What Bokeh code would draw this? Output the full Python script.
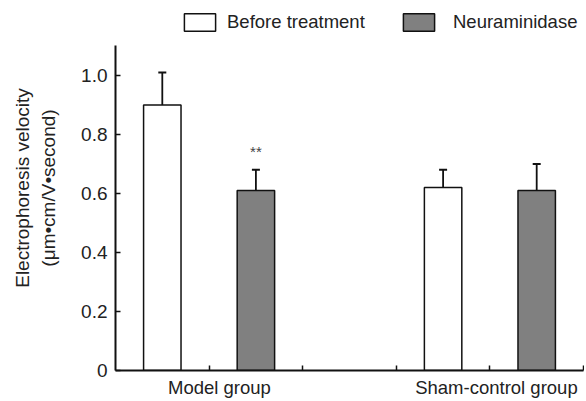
from bokeh.plotting import figure
from bokeh.models import (ColumnDataSource, FixedTicker, Legend, LegendItem,
                          Whisker, TeeHead, Range1d, PrintfTickFormatter)
from bokeh.core.properties import value
from bokeh.embed import file_html
from bokeh.resources import INLINE

groups = ["Model group", "Sham-control group"]
series = ["Before treatment", "Neuraminidase"]
before_mean = [0.90, 0.62]
before_sd = [0.11, 0.06]
neura_mean = [0.61, 0.61]
neura_sd = [0.07, 0.09]
y_ticks = [0, 0.2, 0.4, 0.6, 0.8, 1.0]
y_axis_max = 1.1
significance = ["**", ""]  # marks above Neuraminidase bars ("" for none)

# category layout on a numeric axis: each group occupies 2.5 units
before_x = [0.5, 3.5]
neura_x = [1.5, 4.5]
label_x = [1.11, 4.07]
sep_ticks = [1, 2, 3, 4, 5]

FONT = "Liberation Sans"
TXT = "#222222"

p = figure(width=584, height=400, output_backend="svg", toolbar_location=None,
           x_range=Range1d(0, 5), y_range=Range1d(0, 1.237),
           min_border_left=115, min_border_top=5, min_border_bottom=30,
           min_border_right=1)
p.outline_line_color = None
p.xgrid.visible = False
p.ygrid.visible = False
p.background_fill_color = "white"
p.border_fill_color = "white"

src_b = ColumnDataSource(dict(x=before_x, top=before_mean,
                              up=[m + s for m, s in zip(before_mean, before_sd)]))
src_n = ColumnDataSource(dict(x=neura_x, top=neura_mean,
                              up=[m + s for m, s in zip(neura_mean, neura_sd)]))

rb = p.vbar(x="x", top="top", width=0.4, source=src_b, fill_color="white",
            line_color="#111111", line_width=1.5)
rn = p.vbar(x="x", top="top", width=0.4, source=src_n, fill_color="#808080",
            line_color="#111111", line_width=1.5)

for src in (src_b, src_n):
    w = Whisker(base="x", upper="up", lower="top", source=src,
                line_color="#111111", line_width=1.8,
                upper_head=TeeHead(size=8, line_color="#111111", line_width=2),
                lower_head=None)
    p.add_layout(w)

# significance marks
sig_src = ColumnDataSource(dict(x=neura_x,
                                y=[m + s + 0.062 for m, s in zip(neura_mean, neura_sd)],
                                t=significance))
p.text(x="x", y="y", text="t", source=sig_src, text_align="center",
       text_baseline="middle", text_font=value(FONT), text_font_size="15px",
       text_color="#444444")

# y axis
p.yaxis.bounds = (0, y_axis_max)
p.yaxis.ticker = FixedTicker(ticks=y_ticks)
p.yaxis.formatter = PrintfTickFormatter(format="%.1f")
p.yaxis.major_label_overrides = {0: "0"}
p.yaxis.axis_label = "Electrophoresis velocity\n(μm•cm/V•second)"
p.yaxis.axis_label_text_font = FONT
p.yaxis.axis_label_text_font_size = "19px"
p.yaxis.axis_label_text_font_style = "normal"
p.yaxis.axis_label_text_color = TXT
p.yaxis.axis_label_text_line_height = 1.25
p.yaxis.axis_label_standoff = 19
p.yaxis.major_label_text_font = FONT
p.yaxis.major_label_text_font_size = "19px"
p.yaxis.major_label_text_color = TXT
p.yaxis.major_label_standoff = 8
p.yaxis.major_tick_in = 5
p.yaxis.major_tick_out = 0
p.yaxis.minor_tick_line_color = None
p.yaxis.axis_line_width = 2
p.yaxis.major_tick_line_width = 1.5
p.yaxis.axis_line_color = "#111111"
p.yaxis.major_tick_line_color = "#111111"

# x axis: labels at group centres, separator ticks as minor ticks
p.xaxis.ticker = FixedTicker(ticks=label_x, minor_ticks=sep_ticks)
p.xaxis.major_label_overrides = {label_x[i]: groups[i] for i in range(len(groups))}
p.xaxis.major_tick_line_color = None
p.xaxis.minor_tick_in = 5
p.xaxis.minor_tick_out = 0
p.xaxis.minor_tick_line_color = "#111111"
p.xaxis.minor_tick_line_width = 1.5
p.xaxis.axis_line_width = 2
p.xaxis.axis_line_color = "#111111"
p.xaxis.major_label_text_font = FONT
p.xaxis.major_label_text_font_size = "18.5px"
p.xaxis.major_label_text_color = TXT
p.xaxis.major_label_standoff = 0

legend_kw = dict(orientation="horizontal", glyph_width=39, glyph_height=22,
                 padding=0, margin=0, border_line_color=None,
                 background_fill_alpha=0, label_text_font=FONT,
                 label_text_font_size="18.5px", label_text_color=TXT)
leg1 = Legend(items=[LegendItem(label=series[0], renderers=[rb])],
              location=(65, 337), label_standoff=8, **legend_kw)
leg2 = Legend(items=[LegendItem(label=series[1], renderers=[rn])],
              location=(284, 337), label_standoff=15, **legend_kw)
p.add_layout(leg1, "center")
p.add_layout(leg2, "center")

open("out.html", "w").write(file_html(p, INLINE))
